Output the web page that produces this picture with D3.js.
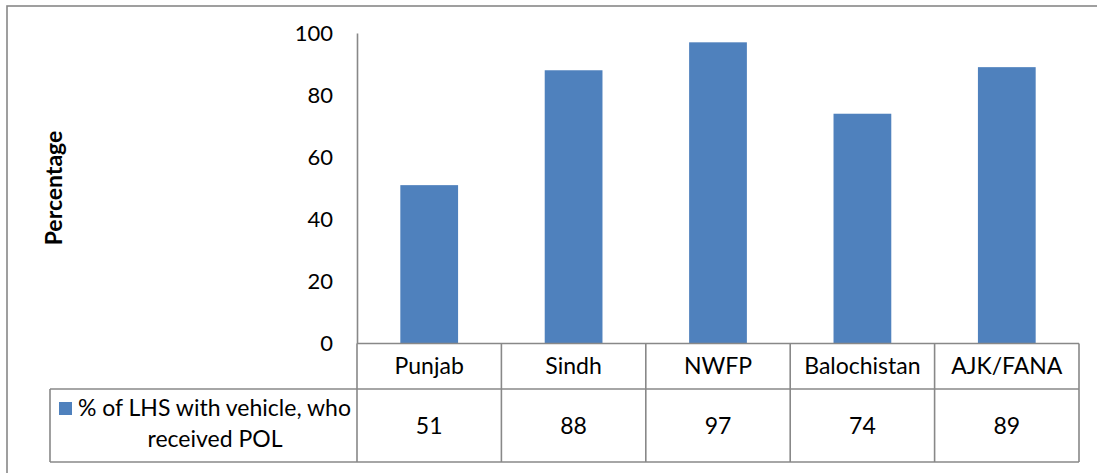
<!DOCTYPE html>
<html>
<head>
<meta charset="utf-8">
<script src="https://cdn.jsdelivr.net/npm/d3@7"></script>
<style>
  html, body { margin: 0; padding: 0; background: #fff; }
  svg { display: block; }
  text { font-family: Lato, "Open Sans", sans-serif; fill: #000; }
</style>
</head>
<body>
<svg id="chart" width="1097" height="473"></svg>
<script>
const categories = ["Punjab", "Sindh", "NWFP", "Balochistan", "AJK/FANA"];
const values = [51, 88, 97, 74, 89];
const seriesName = ["% of LHS with vehicle, who", "received POL"];
const yTicks = [0, 20, 40, 60, 80, 100];
const yLabel = "Percentage";

const svg = d3.select("#chart");
const lineColor = "#888888";
const barColor = "#4F81BD";

// outer chart border (right/bottom edges fall outside the image)
svg.append("rect").attr("x", 7).attr("y", 6).attr("width", 1200).attr("height", 600)
  .attr("fill", "none").attr("stroke", lineColor).attr("stroke-width", 1.6);

const plotLeft = 357, plotRight = 1079, plotTop = 33, zero = 343.5;
const rowCat = 389, rowEnd = 462, legendLeft = 50;
const tableFont = 23;

const x = d3.scaleBand().domain(categories).range([plotLeft, plotRight]).padding(0);
const y = d3.scaleLinear().domain([0, 100]).range([zero, plotTop]);

// bars
svg.append("g").selectAll("rect").data(values).join("rect")
  .attr("x", (d, i) => x(categories[i]) + x.bandwidth() * 0.3)
  .attr("width", x.bandwidth() * 0.4)
  .attr("y", d => y(d))
  .attr("height", d => y(0) - y(d))
  .attr("fill", barColor);

// y axis
const yAxis = d3.axisLeft(y).tickValues(yTicks).tickSize(0).tickSizeOuter(0).tickPadding(24);
const gy = svg.append("g").attr("transform", `translate(${plotLeft},0)`).call(yAxis);
gy.select(".domain").attr("stroke", lineColor).attr("stroke-width", 1.6);
gy.selectAll("text").attr("font-size", 22).attr("font-family", "Lato, sans-serif").attr("fill", "#000");

// y label
svg.append("text").attr("transform", `translate(62,188) rotate(-90)`)
  .attr("text-anchor", "middle").attr("font-size", 23).attr("font-weight", "bold")
  .text(yLabel);

// data table lines
const g = svg.append("g").attr("stroke", lineColor).attr("stroke-width", 1.6);
g.append("line").attr("x1", plotLeft).attr("x2", plotRight).attr("y1", zero).attr("y2", zero);
g.append("line").attr("x1", legendLeft).attr("x2", plotRight).attr("y1", rowCat).attr("y2", rowCat);
g.append("line").attr("x1", legendLeft).attr("x2", plotRight).attr("y1", rowEnd).attr("y2", rowEnd);
g.append("line").attr("x1", legendLeft).attr("x2", legendLeft).attr("y1", rowCat).attr("y2", rowEnd);
const borders = categories.map(c => x(c)).concat([plotRight]);
g.selectAll(".vb").data(borders).join("line")
  .attr("x1", d => d).attr("x2", d => d).attr("y1", zero).attr("y2", rowEnd);

// category labels
svg.append("g").selectAll("text").data(categories).join("text")
  .attr("x", d => x(d) + x.bandwidth() / 2)
  .attr("y", (zero + rowCat) / 2)
  .attr("dy", "0.35em").attr("text-anchor", "middle").attr("font-size", tableFont)
  .text(d => d);

// values
svg.append("g").selectAll("text").data(values).join("text")
  .attr("x", (d, i) => x(categories[i]) + x.bandwidth() / 2)
  .attr("y", (rowCat + rowEnd) / 2)
  .attr("dy", "0.35em").attr("text-anchor", "middle").attr("font-size", tableFont)
  .text(d => d);

// legend key
svg.append("rect").attr("x", 59).attr("y", 402).attr("width", 13).attr("height", 13).attr("fill", barColor);
svg.append("text").attr("x", 351).attr("y", 408).attr("dy", "0.35em")
  .attr("text-anchor", "end").attr("font-size", tableFont).text(seriesName[0]);
svg.append("text").attr("x", 215).attr("y", 439).attr("dy", "0.35em")
  .attr("text-anchor", "middle").attr("font-size", tableFont).text(seriesName[1]);
</script>
</body>
</html>
